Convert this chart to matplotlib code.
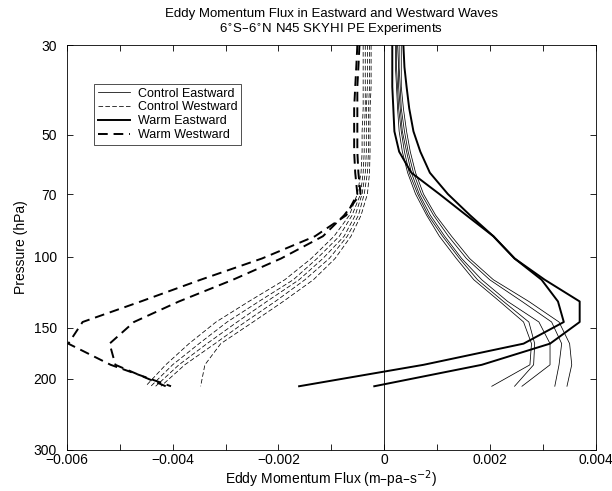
import numpy as np
import matplotlib
matplotlib.use("Agg")
import matplotlib.pyplot as plt
from matplotlib.ticker import MultipleLocator, FixedLocator, NullLocator

plt.rcParams['font.family'] = ['Liberation Sans', 'DejaVu Sans']

# model pressure levels (hPa), top to bottom
pres = [30, 34, 38, 43, 49, 55, 62, 70, 79, 89, 101, 114, 129, 145, 164, 185, 209]

# eddy momentum flux, in units of 1e-3 m-pa-s^-2
ctl_east = [
    [0.21, 0.21, 0.23, 0.25, 0.28, 0.34, 0.44, 0.59, 0.80, 1.04, 1.36, 1.69, 2.18, 2.63, 2.78, 2.75, 2.03],
    [0.23, 0.23, 0.25, 0.27, 0.32, 0.38, 0.47, 0.63, 0.83, 1.10, 1.42, 1.76, 2.25, 2.73, 2.84, 2.82, 2.46],
    [0.25, 0.27, 0.27, 0.30, 0.34, 0.42, 0.51, 0.66, 0.87, 1.14, 1.46, 1.84, 2.33, 2.92, 3.13, 3.13, 2.60],
    [0.28, 0.28, 0.30, 0.32, 0.38, 0.45, 0.55, 0.70, 0.93, 1.21, 1.55, 1.99, 2.60, 3.16, 3.35, 3.30, 3.22],
    [0.32, 0.32, 0.32, 0.36, 0.42, 0.49, 0.59, 0.74, 0.97, 1.27, 1.61, 2.06, 2.73, 3.30, 3.50, 3.54, 3.45],
]
ctl_west = [
    [-0.40, -0.40, -0.40, -0.40, -0.42, -0.42, -0.44, -0.51, -0.66, -0.95, -1.38, -1.88, -2.56, -3.18, -3.69, -4.13, -4.51],
    [-0.36, -0.36, -0.36, -0.36, -0.38, -0.38, -0.40, -0.45, -0.61, -0.85, -1.27, -1.72, -2.37, -2.97, -3.50, -4.00, -4.41],
    [-0.32, -0.32, -0.32, -0.34, -0.34, -0.34, -0.36, -0.42, -0.55, -0.76, -1.16, -1.61, -2.22, -2.78, -3.35, -3.88, -4.32],
    [-0.28, -0.28, -0.28, -0.30, -0.30, -0.30, -0.32, -0.38, -0.49, -0.70, -1.04, -1.50, -2.06, -2.63, -3.20, -3.77, -4.22],
    [-0.25, -0.25, -0.25, -0.27, -0.27, -0.27, -0.28, -0.32, -0.44, -0.63, -0.93, -1.34, -1.91, -2.48, -3.09, -3.39, -3.47],
]
warm_east = [
    [0.36, 0.38, 0.42, 0.47, 0.55, 0.68, 0.86, 1.20, 1.62, 2.06, 2.46, 3.03, 3.69, 3.69, 3.13, 1.84, -0.19],
    [0.15, 0.15, 0.15, 0.17, 0.19, 0.28, 0.51, 1.04, 1.55, 2.06, 2.46, 2.97, 3.28, 3.39, 2.63, 0.74, -1.61],
]
warm_west = [
    [-0.51, -0.53, -0.55, -0.57, -0.57, -0.57, -0.55, -0.51, -0.72, -1.31, -2.31, -3.47, -4.60, -5.70, -5.97, -5.17, -4.03],
    [-0.47, -0.49, -0.51, -0.51, -0.51, -0.51, -0.49, -0.45, -0.76, -1.16, -1.95, -2.86, -3.88, -4.73, -5.19, -5.08, -4.13],
]

xt = [-0.006, -0.004, -0.002, 0, 0.002, 0.004]
xt_labels = ['\u22120.006', '\u22120.004', '\u22120.002', '0', '0.002', '0.004']
yt = [30, 50, 70, 100, 150, 200, 300]

fig = plt.figure(figsize=(6.12, 4.91), dpi=100)
ax = fig.add_axes([0.109, 0.084, 0.865, 0.824])

ax.axvline(0, color='black', lw=0.6)

for i, v in enumerate(ctl_east):
    ax.plot(np.array(v) * 1e-3, pres, color='black', lw=0.55,
            label='Control Eastward' if i == 0 else None)
for i, v in enumerate(ctl_west):
    ax.plot(np.array(v) * 1e-3, pres, color='black', lw=0.55, dashes=(6, 3),
            label='Control Westward' if i == 0 else None)
for i, v in enumerate(warm_east):
    ax.plot(np.array(v) * 1e-3, pres, color='black', lw=1.4,
            label='Warm Eastward' if i == 0 else None)
for i, v in enumerate(warm_west):
    ax.plot(np.array(v) * 1e-3, pres, color='black', lw=1.4, dashes=(5, 3),
            label='Warm Westward' if i == 0 else None)

ax.set_yscale('log')
ax.set_ylim(300, 30)
ax.set_xlim(-0.006, 0.004)
ax.yaxis.set_major_locator(FixedLocator(yt))
ax.yaxis.set_minor_locator(NullLocator())
ax.set_yticklabels([str(t) for t in yt])
ax.set_xticks(xt)
ax.set_xticklabels(xt_labels)
ax.xaxis.set_minor_locator(MultipleLocator(0.001))
ax.tick_params(which='both', direction='in', top=True, right=True, length=4,
               width=0.6, labelsize=10)
ax.tick_params(axis='x', pad=2)
ax.tick_params(axis='y', pad=7)
for s in ax.spines.values():
    s.set_linewidth(0.6)

ax.set_xlabel('Eddy Momentum Flux (m\u2013pa\u2013s$^{-2}$)', fontsize=10, labelpad=1)
ax.set_ylabel('Pressure (hPa)', fontsize=10)
ax.set_title('Eddy Momentum Flux in Eastward and Westward Waves\n'
             '6$^{\\circ}$S\u20136$^{\\circ}$N N45 SKYHI PE Experiments',
             fontsize=9.5, pad=9, linespacing=1.15)

leg = ax.legend(loc='upper left', bbox_to_anchor=(0.04, 0.92), fontsize=9,
                frameon=True, fancybox=False, edgecolor='black',
                handlelength=2.6, borderpad=0.3, labelspacing=0.15,
                handletextpad=0.6)
leg.get_frame().set_linewidth(0.6)

fig.savefig('out.png', dpi=100)
